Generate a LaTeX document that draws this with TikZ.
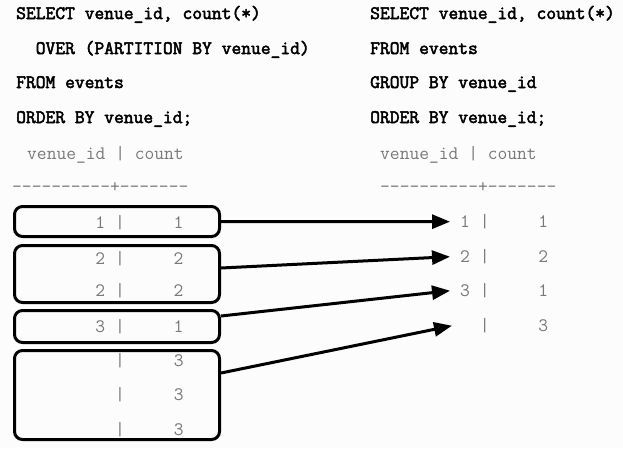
\documentclass[tikz,border=0pt]{standalone}
\usepackage{fontspec}
\newfontfamily\sqlfont{Latin Modern Mono}[FakeBold=2.6]
\usetikzlibrary{arrows.meta}
\definecolor{resgray}{RGB}{120,120,120}
\definecolor{bgc}{RGB}{252,252,252}
\newcommand\dsh{\mbox{-}}
\begin{document}
\begin{tikzpicture}[x=1pt,y=-1pt,
  sql/.style={anchor=base west, inner sep=0pt, font=\fontsize{19}{22}\selectfont\sqlfont\bfseries},
  res/.style={anchor=base west, inner sep=0pt, text=resgray, font=\fontsize{19}{22}\selectfont\ttfamily},
  grp/.style={draw, line width=3pt, rounded corners=8pt, minimum width=205pt, inner sep=0pt},
  link/.style={line width=3pt, -{Triangle[length=18pt,width=14pt]}}]
\useasboundingbox (0,0) rectangle (623,448);
\fill[bgc] (0,0) rectangle (623,448);
% left query
\node[sql] (l1) at (16,19) {SELECT venue\_id, count(*)};
\node[sql] (l2) at (16,54) {~~OVER (PARTITION BY venue\_id)};
\node[sql] (l3) at (16,88) {FROM events};
\node[sql] (l4) at (16,123) {ORDER BY venue\_id;};
\node[res] (lh) at (27,159) {venue\_id | count};
\node[res] (ld) at (12,192) {\dsh\dsh\dsh\dsh\dsh\dsh\dsh\dsh\dsh\dsh\mbox{+}\dsh\dsh\dsh\dsh\dsh\dsh\dsh};
% right query
\node[sql] (q1) at (370,19) {SELECT venue\_id, count(*)};
\node[sql] (q2) at (370,54) {FROM events};
\node[sql] (q3) at (370,88) {GROUP BY venue\_id};
\node[sql] (q4) at (370,123) {ORDER BY venue\_id;};
\node[res] (rh) at (380,159) {venue\_id | count};
\node[res] (rd) at (380,192) {\dsh\dsh\dsh\dsh\dsh\dsh\dsh\dsh\dsh\dsh\mbox{+}\dsh\dsh\dsh\dsh\dsh\dsh\dsh};
% left rows
\node[res] (lr1) at (17,228) {~~~~~~~~1~|~~~~~1};
\node[res] (lr2) at (17,264) {~~~~~~~~2~|~~~~~2};
\node[res] (lr3) at (17,296) {~~~~~~~~2~|~~~~~2};
\node[res] (lr4) at (17,332.5) {~~~~~~~~3~|~~~~~1};
\node[res] (lr5) at (17,366.5) {~~~~~~~~~~|~~~~~3};
\node[res] (lr6) at (17,400.5) {~~~~~~~~~~|~~~~~3};
\node[res] (lr7) at (17,435) {~~~~~~~~~~|~~~~~3};
% right rows
\node[res] (r1) at (460,227.5) {1~|~~~~~1};
\node[res] (r2) at (460,262.5) {2~|~~~~~2};
\node[res] (r3) at (460,296.5) {3~|~~~~~1};
\node[res] (r4) at (460,331.5) {~~|~~~~~3};
% group boxes
\node[grp, minimum height=30pt] (b1) at (117,221.5) {};
\node[grp, minimum height=57pt] (b2) at (117,274) {};
\node[grp, minimum height=32pt] (b3) at (117,326.5) {};
\node[grp, minimum height=89pt] (b4) at (117,395) {};
% arrows
\draw[link] (b1.east) -- ([xshift=-10pt]r1.west);
\draw[link] ([yshift=6pt]b2.east) -- ([xshift=-10pt]r2.west);
\draw[link] ([yshift=10.5pt]b3.east) -- ([xshift=-10pt]r3.west);
\draw[link] ([yshift=22pt]b4.east) -- ([xshift=-8pt]r4.west);
\end{tikzpicture}
\end{document}
